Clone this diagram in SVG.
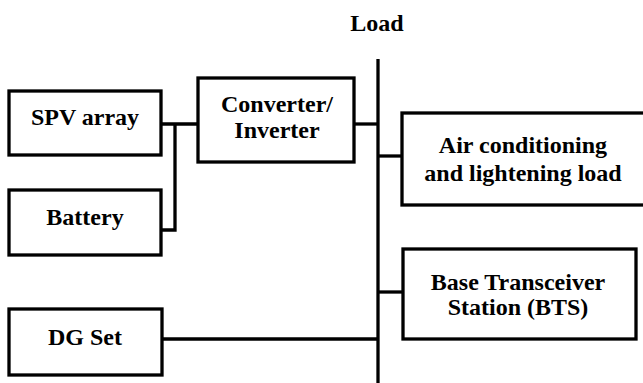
<svg xmlns="http://www.w3.org/2000/svg" width="643" height="383" viewBox="0 0 643 383">
<style>
.box{fill:#fff;stroke:#000;stroke-width:3.3}
.ln{fill:none;stroke:#000;stroke-width:3.3}
text{font-family:"Times New Roman","Liberation Serif",Tinos,"DejaVu Serif",serif;font-weight:bold;font-size:24px;fill:#000;text-anchor:middle}
</style>
<rect width="643" height="383" fill="#fff"/>
<g id="connectors">
<line class="ln" x1="378" y1="59" x2="378" y2="383"/>
<polyline class="ln" points="161,124 198,124"/>
<polyline class="ln" points="161,230 175,230 175,124"/>
<line class="ln" x1="354" y1="124" x2="378" y2="124"/>
<line class="ln" x1="378" y1="156" x2="402" y2="156"/>
<line class="ln" x1="378" y1="292" x2="403" y2="292"/>
<line class="ln" x1="162" y1="339" x2="378" y2="339"/>
</g>
<g id="load-label"><text x="377" y="31">Load</text></g>
<g id="spv"><rect class="box" x="9" y="91" width="152" height="64"/><text x="85" y="125">SPV array</text></g>
<g id="battery"><rect class="box" x="9" y="190" width="152" height="65"/><text x="85" y="225">Battery</text></g>
<g id="converter"><rect class="box" x="198" y="78" width="156" height="84"/><text x="277" y="112">Converter/</text><text x="277" y="138">Inverter</text></g>
<g id="aircon"><rect class="box" x="402" y="113" width="245" height="92"/><text x="523" y="153">Air conditioning</text><text x="523" y="181">and lightening load</text></g>
<g id="bts"><rect class="box" x="403" y="249" width="233" height="90"/><text x="518" y="290">Base Transceiver</text><text x="518" y="315">Station (BTS)</text></g>
<g id="dg"><rect class="box" x="9" y="309" width="153" height="66"/><text x="85" y="345">DG Set</text></g>
</svg>
